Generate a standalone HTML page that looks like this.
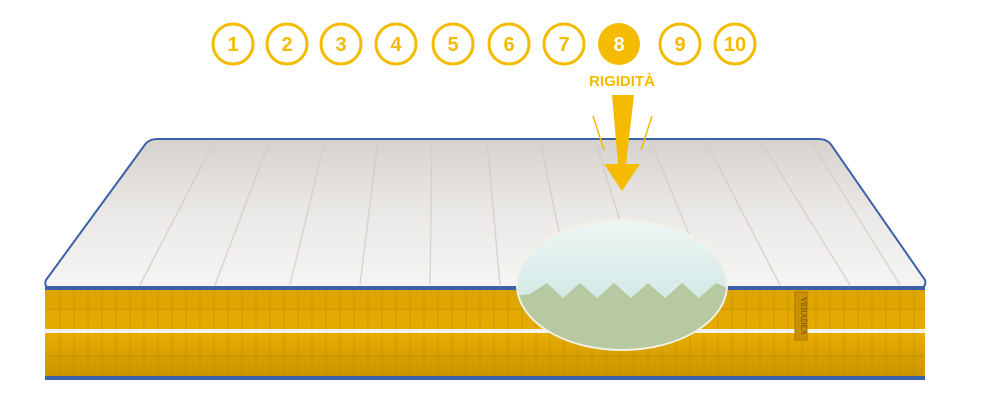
<!DOCTYPE html>
<html><head><meta charset="utf-8"><style>
html,body{margin:0;padding:0;background:#fff;width:985px;height:417px;overflow:hidden}
</style></head><body>
<svg width="985" height="417" viewBox="0 0 985 417" xmlns="http://www.w3.org/2000/svg" font-family="Liberation Sans, sans-serif">
<defs>
<linearGradient id="top" x1="0" y1="0" x2="0" y2="1">
<stop offset="0" stop-color="#d6d2ce"/><stop offset="0.5" stop-color="#ebe9e7"/><stop offset="1" stop-color="#f6f5f4"/>
</linearGradient>
<linearGradient id="side" x1="0" y1="0" x2="0" y2="1">
<stop offset="0" stop-color="#dca300"/><stop offset="0.5" stop-color="#e8ad00"/><stop offset="1" stop-color="#c99400"/>
</linearGradient>
<linearGradient id="bub" x1="0" y1="0" x2="0" y2="1">
<stop offset="0" stop-color="#eef6f4"/><stop offset="0.6" stop-color="#d3e9e7"/><stop offset="1" stop-color="#c3dfdb"/>
</linearGradient>
<clipPath id="cc"><ellipse cx="622" cy="285" rx="104" ry="64"/></clipPath>
</defs>
<g fill="none" stroke="#f5bb00" stroke-width="3">
<circle cx="233" cy="44" r="20"/><circle cx="287" cy="44" r="20"/><circle cx="341" cy="44" r="20"/>
<circle cx="396" cy="44" r="20"/><circle cx="453" cy="44" r="20"/><circle cx="509" cy="44" r="20"/>
<circle cx="564" cy="44" r="20"/><circle cx="680" cy="44" r="20"/><circle cx="735" cy="44" r="20"/>
</g>
<circle cx="619" cy="44" r="21" fill="#f5bb00"/>
<g font-weight="bold" font-size="20" fill="#f5bb00" text-anchor="middle">
<text x="233" y="51">1</text><text x="287" y="51">2</text><text x="341" y="51">3</text>
<text x="396" y="51">4</text><text x="453" y="51">5</text><text x="509" y="51">6</text>
<text x="564" y="51">7</text><text x="619" y="51" fill="#fff">8</text><text x="680" y="51">9</text><text x="735" y="51">10</text>
<text x="622" y="86" font-size="15">RIGIDITÀ</text>
</g>
<path d="M158 139 L818 139 Q828 139 832 146 L925 280 Q927 288 918 288 L52 288 Q43 288 46 280 L144 146 Q148 139 158 139 Z" fill="url(#top)" stroke="#3b62a8" stroke-width="2"/>
<g stroke="#d2cdc9" stroke-width="1.5" fill="none" opacity="0.8">
<path d="M215 140 L140 285"/><path d="M270 140 L215 285"/><path d="M325 140 L290 285"/><path d="M378 140 L360 285"/>
<path d="M432 140 L430 285"/><path d="M487 140 L500 285"/><path d="M540 140 L570 285"/><path d="M595 140 L640 285"/>
<path d="M650 140 L710 285"/><path d="M705 140 L780 285"/><path d="M760 140 L850 285"/><path d="M810 140 L900 285"/>
</g>
<rect x="45" y="288" width="880" height="90" rx="4" fill="url(#side)"/>
<g stroke="#b98800" stroke-width="1" opacity="0.6">
<line x1="45" y1="309" x2="925" y2="309"/><line x1="45" y1="356" x2="925" y2="356"/>
</g>
<g stroke="#b98800" stroke-width="1" opacity="0.5">
<path d="M60 290V378M74 290V378M88 290V378M102 290V378M116 290V378M130 290V378M144 290V378M158 290V378M172 290V378M186 290V378M200 290V378M214 290V378M228 290V378M242 290V378M256 290V378M270 290V378M284 290V378M298 290V378M312 290V378M326 290V378M340 290V378M354 290V378M368 290V378M382 290V378M396 290V378M410 290V378M424 290V378M438 290V378M452 290V378M466 290V378M480 290V378M494 290V378M508 290V378M522 290V378M536 290V378M550 290V378M564 290V378M578 290V378M592 290V378M606 290V378M620 290V378M634 290V378M648 290V378M662 290V378M676 290V378M690 290V378M704 290V378M718 290V378M732 290V378M746 290V378M760 290V378M774 290V378M788 290V378M802 290V378M816 290V378M830 290V378M844 290V378M858 290V378M872 290V378M886 290V378M900 290V378M914 290V378"/>
</g>
<rect x="45" y="329" width="880" height="4" fill="#f4f2ee"/>
<rect x="45" y="286" width="880" height="4" fill="#3b62a8"/>
<rect x="45" y="376" width="880" height="4" fill="#3b62a8"/>
<rect x="795" y="292" width="12" height="48" fill="#c99000" stroke="#a87800"/>
<text x="801" y="316" font-size="8" fill="#6b4a00" text-anchor="middle" transform="rotate(90 801 316)" font-family="Liberation Serif, serif">VERADEA</text>
<ellipse cx="622" cy="285" rx="106" ry="66" fill="#f3f0e6"/>
<g clip-path="url(#cc)">
<rect x="510" y="215" width="230" height="145" fill="url(#bub)"/>
<path d="M510 296 L530 294 L547 283 L563 298 L580 283 L597 298 L614 283 L631 298 L648 283 L665 298 L682 283 L699 298 L716 283 L740 294 L740 360 L510 360 Z" fill="#b7c9a0"/>
</g>
<path d="M612 95 L634 95 L626 164 L640 164 L622 191 L604 164 L618 164 Z" fill="#f5bb00"/>
<path d="M593 116 L604 150" stroke="#f5bb00" stroke-width="1.5"/>
<path d="M652 116 L641 150" stroke="#f5bb00" stroke-width="1.5"/>
</svg>
</body></html>
